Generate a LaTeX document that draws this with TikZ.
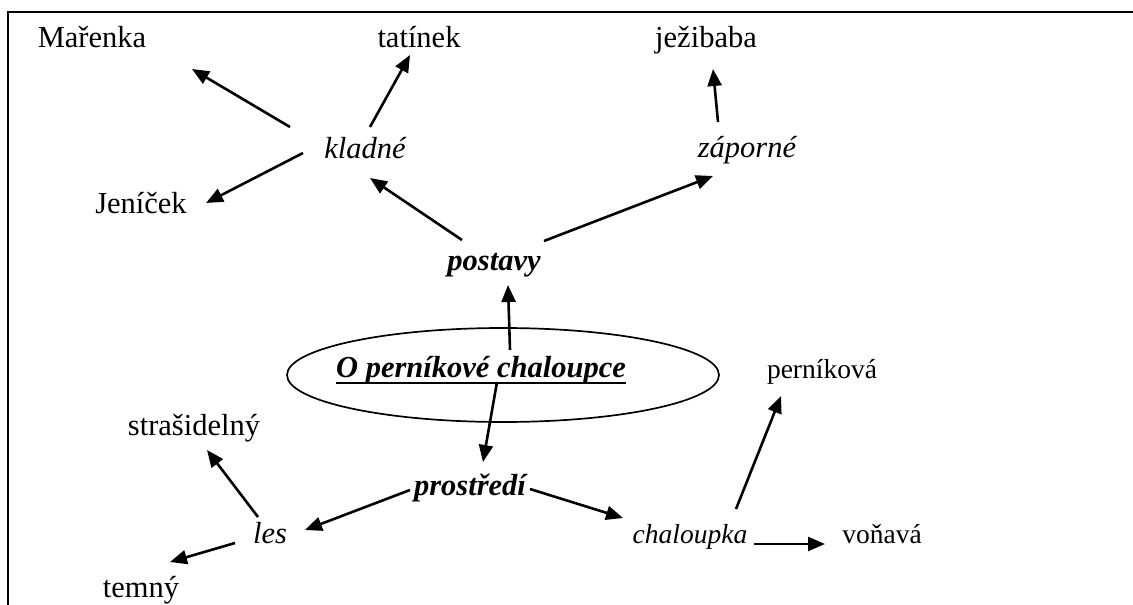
\documentclass[tikz,border=0pt]{standalone}
\usepackage{fontspec}
\setmainfont{Liberation Serif}
\usetikzlibrary{arrows.meta,shapes.geometric,calc}
\begin{document}
\begin{tikzpicture}[x=1pt,y=-1pt,
  lbl/.style={anchor=base, inner sep=0pt, font=\fontsize{30.5}{36}\selectfont},
  ilbl/.style={lbl, font=\fontsize{30.5}{36}\selectfont\itshape},
  blbl/.style={lbl, font=\fontsize{30.5}{36}\selectfont\bfseries\itshape},
  slbl/.style={lbl, font=\fontsize{27.5}{32}\selectfont},
  silbl/.style={lbl, font=\fontsize{27.5}{32}\selectfont\itshape},
  arr/.style={-{Triangle[length=17pt,width=14pt]}, line width=2.6pt}]
\useasboundingbox (0,0) rectangle (1133,605);
% frame
\draw[line width=1.6pt] (7,12) -- (1133,12);
\draw[line width=2.4pt] (8,11) -- (8,605);
% ellipse
\node[draw, ellipse, line width=1.7pt, minimum width=432pt, minimum height=94pt, inner sep=0pt] (ell) at (503,375) {};
% nodes
\node[lbl]  (marenka)    at (92,47)  {Mařenka};
\node[lbl]  (tatinek)    at (419,47) {tatínek};
\node[lbl]  (jezibaba)   at (706,47) {ježibaba};
\node[ilbl] (kladne)     at (365,158) {kladné};
\node[ilbl] (zaporne)    at (747,157) {záporné};
\node[lbl]  (jenicek)    at (141,213) {Jeníček};
\node[blbl] (postavy)    at (494,270) {postavy};
\node[blbl] (title)      at (481,377) {O perníkové chaloupce};
\node[blbl] (prostredi)  at (470,495) {prostředí};
\node[ilbl] (les)        at (270,543) {les};
\node[lbl]  (strasidelny) at (194,435) {strašidelný};
\node[lbl]  (temny)      at (141,597) {temný};
\node[silbl] (chaloupka) at (690,543) {chaloupka};
\node[slbl] (vonava)     at (882,543) {voňavá};
\node[slbl] (pernikova)  at (822,378) {perníková};
% underline
\draw[line width=2.8pt] ([yshift=-6pt]title.base west) -- ([yshift=-6pt]title.base east);
% arrows
\draw[arr] ($(kladne.base)+(-75,-31)$) -- ($(marenka.base)+(100,22)$);
\draw[arr] ($(kladne.base)+(5,-31)$) -- ($(tatinek.base)+(-9,8)$);
\draw[arr] ($(kladne.base)+(-62,-5)$) -- ($(jenicek.base)+(65,-10)$);
\draw[arr] ($(postavy.base)+(-32,-30)$) -- ($(kladne.base)+(5,20)$);
\draw[arr] ($(postavy.base)+(50,-29)$) -- ($(zaporne.base)+(-34,19)$);
\draw[arr] ($(zaporne.base)+(-29,-35)$) -- ($(jezibaba.base)+(7,22)$);
\draw[arr] ($(title.base)+(29,-27)$) -- ($(postavy.base)+(14,15)$);
\draw[arr] ($(title.base)+(16,5)$) -- ($(prostredi.base)+(13,-33)$);
\draw[arr] ($(prostredi.base)+(-60,-5)$) -- ($(les.base)+(35,-13)$);
\draw[arr] ($(prostredi.base)+(60,-6)$) -- ($(chaloupka.base)+(-67,-25)$);
\draw[arr] ($(les.base)+(-12,-26)$) -- ($(strasidelny.base)+(13,15)$);
\draw[arr] ($(les.base)+(-35,0)$) -- ($(temny.base)+(29,-35)$);
\draw[arr] ($(chaloupka.base)+(46,-34)$) -- ($(pernikova.base)+(-41,18)$);
\draw[arr] ($(chaloupka.base)+(64,1)$) -- ($(vonava.base)+(-57,1)$);
\end{tikzpicture}
\end{document}
